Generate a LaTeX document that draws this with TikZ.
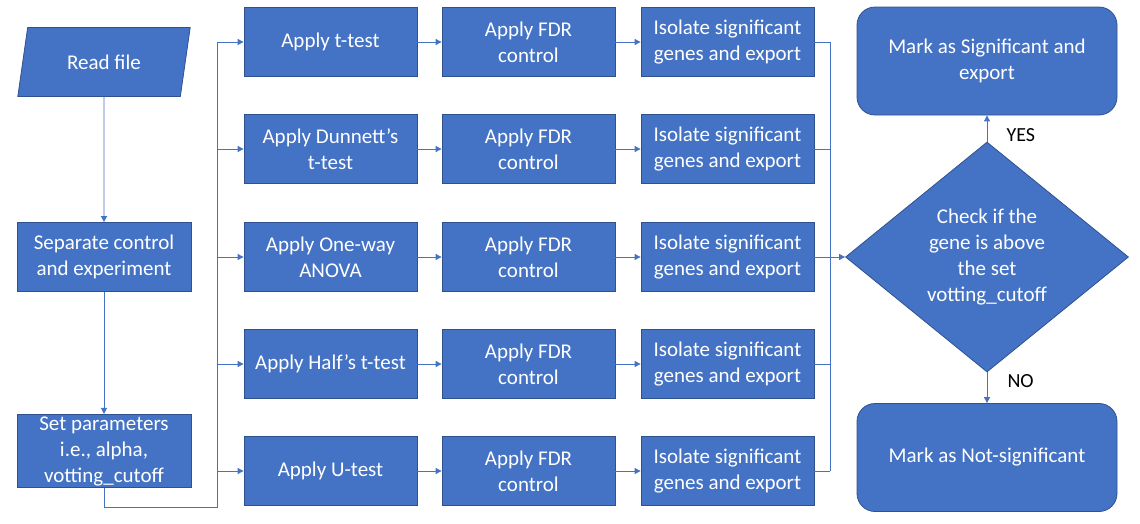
\documentclass[tikz,border=0pt]{standalone}
\usepackage{fontspec}
\setmainfont{Carlito}
\usetikzlibrary{shapes.geometric}
\usetikzlibrary{arrows.meta}

\definecolor{officeblue}{HTML}{4472C4}
\definecolor{edgeblue}{HTML}{2F528F}

\tikzset{
 procbox/.style={draw=edgeblue, fill=officeblue, text=white, line width=0.8pt,
   minimum height=69, inner sep=2pt, align=center, font=\fontsize{21}{26}\selectfont},
 iobox/.style={procbox, trapezium, trapezium left angle=75, trapezium right angle=105,
   trapezium stretches=true, minimum width=174},
 endbox/.style={procbox, rounded corners=18, minimum width=260, minimum height=108},
 checkbox/.style={procbox, diamond, aspect=1.23, minimum width=283, minimum height=230, inner sep=0pt},
 flow/.style={draw=officeblue, line width=0.9pt},
 flowarrow/.style={flow, -{Triangle[width=6pt,length=6pt]}},
 answer/.style={text=black, font=\fontsize{20}{24}\selectfont, anchor=west}
}

\begin{document}
\begin{tikzpicture}[x=1pt, y=-1pt]
\useasboundingbox (0,0) rectangle (1140,523);

% left column
\node[iobox] (read) at (104,62) {Read file};
\node[procbox, minimum width=174] (sep) at (104,257) {Separate control\\and experiment};
\node[procbox, minimum width=174, minimum height=70] (par) at (104,451) {Set parameters\\i.e., alpha,\\votting\_cutoff};
\draw[flowarrow] (read) -- (sep);
\draw[flowarrow] (sep) -- (par);

% five tests in rows
\foreach \i/\yy/\test in {1/42/{Apply t-test}, 2/149/{Apply Dunnett's\\t-test}, 3/257/{Apply One-way\\ANOVA}, 4/364/{Apply Half's t-test}, 5/471/{Apply U-test}} {
 \node[procbox, minimum width=173] (test\i) at (330.5,\yy) {\test};
 \node[procbox, minimum width=173] (fdr\i) at (528.5,\yy) {Apply FDR\\control};
 \node[procbox, minimum width=173] (iso\i) at (727.5,\yy) {Isolate significant\\genes and export};
 \draw[flowarrow] (test\i) -- (fdr\i);
 \draw[flowarrow] (fdr\i) -- (iso\i);
}

% split bus
\coordinate (busbot) at (217,507);
\coordinate (bustop) at (217,42);
\draw[flow] (par.south) |- (busbot) -- (bustop);
\foreach \i in {1,...,5}
 \draw[flowarrow] (bustop |- test\i) -- (test\i.west);

% decision
\node[checkbox] (check) at (987,257) {Check if the\\gene is above\\the set\\votting\_cutoff};
\coordinate (merge) at (830,257);
\draw[flow] (merge |- iso1) -- (merge |- iso5);
\foreach \i in {1,2,4,5}
 \draw[flow] (iso\i.east) -- (merge |- iso\i);
\draw[flowarrow] (iso3.east) -- (check.west);

\node[endbox] (sig) at (987,61) {Mark as Significant and\\export};
\node[endbox] (notsig) at (987,457.5) {Mark as Not-significant};
\draw[flowarrow] (check.north) -- (sig.south);
\draw[flowarrow] (check.south) -- (notsig.north);
\node[answer] (yes) at (1003,135) {YES};
\node[answer] (no) at (1004,381) {NO};
\end{tikzpicture}
\end{document}
